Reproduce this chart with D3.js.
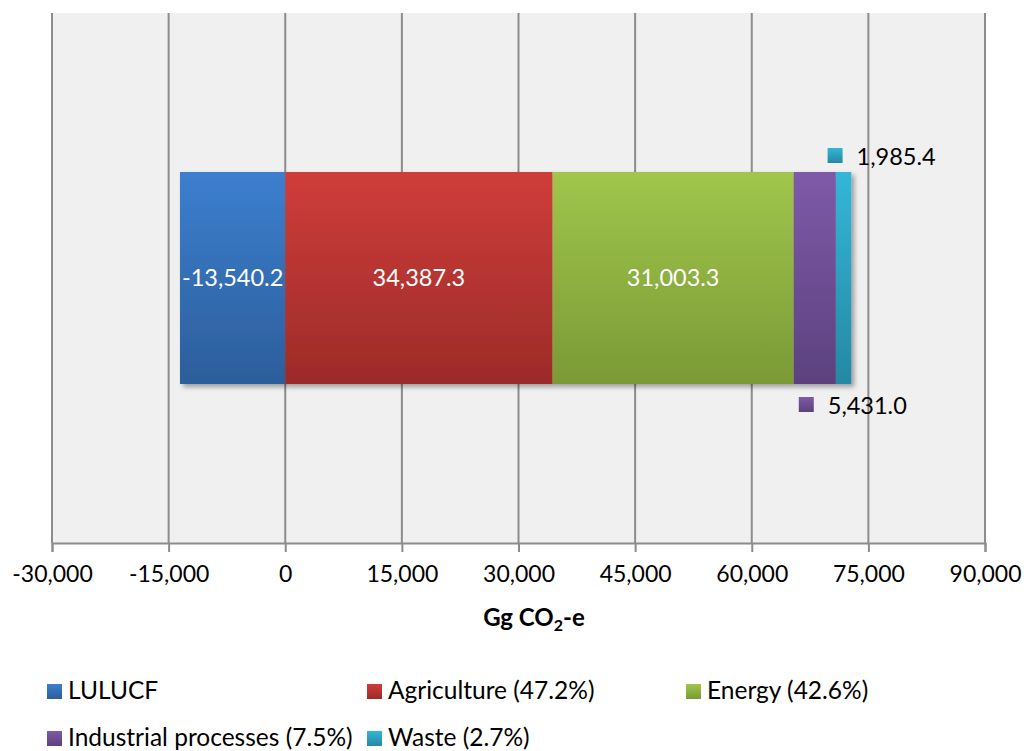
<!DOCTYPE html>
<html>
<head>
<meta charset="utf-8">
<script src="https://cdn.jsdelivr.net/npm/d3@7"></script>
<style>
    body { margin: 0; background: #ffffff; }
    svg text { font-family: Lato, "Open Sans", sans-serif; fill: #000; }
</style>
</head>
<body>
<div id="chart"></div>
<script>

// Emissions by sector (Gg CO2-e)
const categories = ["LULUCF", "Agriculture", "Energy", "Industrial processes", "Waste"];
const values = [-13540.2, 34387.3, 31003.3, 5431.0, 1985.4];
const legendLabels = ["LULUCF", "Agriculture (47.2%)", "Energy (42.6%)", "Industrial processes (7.5%)", "Waste (2.7%)"];
const xTicks = [-30000, -15000, 0, 15000, 30000, 45000, 60000, 75000, 90000];
const topColors = ["#3c7fcf", "#cf3d3a", "#a0c64b", "#7e5aa8", "#34b6d8"];
const bottomColors = ["#2c5e9b", "#9c2b29", "#7a9a36", "#5c417e", "#2688a2"];

let width = 1027, height = 751;
let margin = { top: 13, right: 42, bottom: 208, left: 52 };
let plotW = width - margin.left - margin.right,
    plotH = height - margin.top - margin.bottom;

// hyphen instead of the unicode minus d3 puts in
let tickFmt = d => d3.format(",")(d).replace("\u2212", "-");
let fmt = d => d3.format(",.1f")(d).replace("\u2212", "-");

let svg = d3.select("#chart").append("svg")
    .attr("width", width)
    .attr("height", height);

let defs = svg.append("defs");

// vertical gradients, light on top, dark at the bottom
categories.forEach((c, i) => {
    let g = defs.append("linearGradient")
        .attr("id", "grad" + i)
        .attr("x1", 0).attr("y1", 0).attr("x2", 0).attr("y2", 1);
    g.append("stop").attr("offset", "0%").attr("stop-color", topColors[i]);
    g.append("stop").attr("offset", "100%").attr("stop-color", bottomColors[i]);
});

defs.append("filter")
    .attr("id", "shadow")
    .attr("x", "-10%").attr("y", "-10%").attr("width", "130%").attr("height", "130%")
    .append("feDropShadow")
    .attr("dx", 3).attr("dy", 3)
    .attr("stdDeviation", 2.5)
    .attr("flood-color", "#000")
    .attr("flood-opacity", 0.35);

let chart = svg.append("g")
    .attr("transform", "translate(" + margin.left + "," + margin.top + ")");

// Scales
let x = d3.scaleLinear()
    .domain([xTicks[0], xTicks[xTicks.length - 1]])
    .range([0, plotW]);

let y = d3.scaleBand()
    .domain(["total"])
    .range([0, plotH])
    .paddingInner(0.6)
    .paddingOuter(0.3);

// plot background
chart.append("rect")
    .attr("width", plotW)
    .attr("height", plotH)
    .attr("fill", "#f0f0f0");

// gridlines
chart.selectAll(".grid")
    .data(xTicks)
    .enter().append("line")
    .attr("class", "grid")
    .attr("x1", d => x(d)).attr("x2", d => x(d))
    .attr("y1", 0).attr("y2", plotH)
    .attr("stroke", "#8c8c8c")
    .attr("stroke-width", 2);

// x axis
let xAxis = d3.axisBottom(x)
    .tickValues(xTicks)
    .tickSize(9)
    .tickPadding(14)
    .tickFormat(tickFmt);

let axisG = chart.append("g")
    .attr("transform", "translate(0," + plotH + ")")
    .call(xAxis);
axisG.select(".domain").attr("stroke", "#8c8c8c").attr("stroke-width", 2);
axisG.selectAll(".tick line").attr("stroke", "#8c8c8c").attr("stroke-width", 2);
axisG.selectAll(".tick text")
    .attr("font-size", 23)
    .attr("fill", "#000")
    .style("font-family", "Lato, sans-serif");

// axis title
let title = svg.append("text")
    .attr("x", 534)
    .attr("y", 626)
    .attr("text-anchor", "middle")
    .attr("font-size", 24)
    .attr("font-weight", "bold");
title.append("tspan").text("Gg CO");
title.append("tspan").text("2").attr("font-size", 16).attr("dy", 5);
title.append("tspan").text("-e").attr("dy", -5);

// diverging stack
let segs = [];
let posSum = 0, negSum = 0;
values.forEach((v, i) => {
    if (v < 0) {
        segs.push({ i: i, x0: negSum + v, x1: negSum, value: v });
        negSum += v;
    } else {
        segs.push({ i: i, x0: posSum, x1: posSum + v, value: v });
        posSum += v;
    }
});

let barY = y("total"), barH = y.bandwidth();

chart.append("g")
    .attr("filter", "url(#shadow)")
    .selectAll("rect")
    .data(segs)
    .enter().append("rect")
    .attr("x", d => x(d.x0))
    .attr("y", barY)
    .attr("width", d => x(d.x1) - x(d.x0))
    .attr("height", barH)
    .attr("fill", d => "url(#grad" + d.i + ")");

// labels inside the three big segments
chart.selectAll(".inner-label")
    .data(segs.slice(0, 3))
    .enter().append("text")
    .attr("class", "inner-label")
    .attr("x", d => (x(d.x0) + x(d.x1)) / 2)
    .attr("y", barY + barH / 2 + 8)
    .attr("text-anchor", "middle")
    .attr("font-size", 23.5)
    .style("fill", "#ffffff")
    .text(d => fmt(d.value));

// small segments labelled outside with a colour key
let outer = [
    { seg: segs[3], top: barY + barH + 13 },
    { seg: segs[4], top: barY - 24 }
];
outer.forEach(o => {
    let cx = (x(o.seg.x0) + x(o.seg.x1)) / 2;
    chart.append("rect")
        .attr("x", cx - 16)
        .attr("y", o.top)
        .attr("width", 15)
        .attr("height", 15)
        .attr("fill", "url(#grad" + o.seg.i + ")");
    chart.append("text")
        .attr("x", cx + 13)
        .attr("y", o.top + 17)
        .attr("font-size", 23.5)
        .text(fmt(o.seg.value));
});

// legend
let legendX = [47, 367, 686];
let legendY = [684, 731];
let legend = svg.selectAll(".legend")
    .data(legendLabels)
    .enter().append("g")
    .attr("class", "legend")
    .attr("transform", (d, i) => "translate(" + legendX[i % 3] + "," + legendY[Math.floor(i / 3)] + ")");

legend.append("rect")
    .attr("width", 15)
    .attr("height", 15)
    .attr("fill", (d, i) => "url(#grad" + i + ")");

legend.append("text")
    .attr("x", 21)
    .attr("y", 15)
    .attr("font-size", 24.5)
    .text(d => d);

</script>
</body>
</html>
